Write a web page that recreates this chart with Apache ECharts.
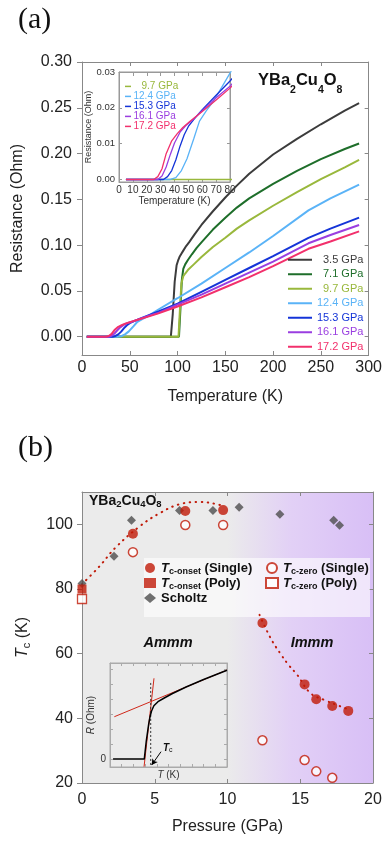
<!DOCTYPE html>
<html>
<head>
<meta charset="utf-8">
<script src="https://cdn.jsdelivr.net/npm/echarts@6/dist/echarts.min.js"></script>
<style>
html, body { margin: 0; padding: 0; background: #fff; }
#chart { width: 385px; height: 844px; }
</style>
</head>
<body>
<div id="chart"></div>
<script>
// ---- panel (a): resistance vs temperature, [T (K), R (Ohm)]
var r35  = [[5,0],[93,0],[95,0.025],[97,0.06],[99,0.078],[100.5,0.083],[102,0.087],[104,0.0905],[106,0.094],[109,0.099],[112,0.103],[118,0.112],[125,0.122],[137,0.137],[150,0.152],[162,0.165],[175,0.178],[200,0.199],[225,0.216],[250,0.232],[275,0.247],[290,0.255]];
var r71  = [[5,0],[101.5,0],[103,0.03],[104.5,0.062],[106,0.074],[108,0.079],[111,0.084],[115,0.09],[120,0.097],[125,0.103],[137,0.117],[150,0.13],[162,0.141],[175,0.151],[200,0.167],[225,0.181],[250,0.194],[275,0.205],[290,0.211]];
var r97  = [[5,0],[101,0],[102.5,0.03],[104,0.058],[106,0.066],[108,0.069],[111,0.073],[117,0.079],[125,0.087],[137,0.098],[150,0.108],[162,0.118],[175,0.127],[200,0.143],[225,0.158],[250,0.172],[275,0.185],[290,0.193]];
var r124 = [[5,0],[37,0],[41,0.0005],[45,0.0025],[49,0.0058],[54,0.0115],[58,0.0163],[63,0.0192],[68,0.0218],[74,0.0257],[80,0.0297],[100,0.042],[125,0.058],[150,0.075],[175,0.092],[200,0.11],[237,0.138],[260,0.151],[290,0.166]];
var r153 = [[5,0],[32,0],[35,0.0008],[38,0.0025],[41,0.0055],[44,0.0093],[47,0.0125],[50,0.0148],[54,0.0168],[60,0.0195],[70,0.0235],[80,0.0275],[100,0.036],[125,0.049],[150,0.062],[175,0.075],[200,0.088],[237,0.108],[260,0.118],[290,0.13]];
var r161 = [[5,0],[28,0],[31,0.001],[34,0.0035],[37,0.007],[40,0.0102],[44,0.0132],[48,0.015],[53,0.0166],[60,0.0192],[70,0.0228],[80,0.026],[100,0.035],[125,0.046],[150,0.058],[175,0.07],[200,0.082],[237,0.102],[260,0.111],[290,0.122]];
var r172 = [[5,0],[25,0],[28,0.0008],[31,0.003],[34,0.0072],[38,0.0108],[42,0.0128],[46,0.0145],[51,0.0162],[60,0.019],[70,0.0222],[80,0.0255],[100,0.033],[125,0.043],[150,0.054],[175,0.065],[200,0.077],[237,0.096],[260,0.104],[290,0.115]];

var pressureNames = ['3.5 GPa', '7.1 GPa', '9.7 GPa', '12.4 GPa', '15.3 GPa', '16.1 GPa', '17.2 GPa'];
var curves = [r35, r71, r97, r124, r153, r161, r172];
var curveColors = ['#3c3c3c', '#1e6e2a', '#99b83c', '#5ab3f7', '#1434d8', '#9a3ee0', '#f2306c'];
var yTicksA = [0, 0.05, 0.1, 0.15, 0.2, 0.25, 0.3];
var yTicksInsetA = [0, 0.01, 0.02, 0.03];

// ---- panel (b): Tc vs pressure, [P (GPa), Tc (K)]
var onsetSingle = [[3.5,97.1],[7.1,104.1],[9.7,104.4],[12.4,69.5],[15.3,50.5],[16.1,45.9],[17.2,43.8],[18.3,42.3]];
var zeroSingle  = [[3.5,91.4],[7.1,99.8],[9.7,99.8],[12.4,33.2],[15.3,27.1],[16.1,23.6],[17.2,21.6]];
var onsetPoly   = [[0,80.0]];
var zeroPoly    = [[0,76.9]];
var scholtz     = [[0,81.7],[2.2,90.1],[3.4,101.3],[6.7,104.3],[9.0,104.3],[10.8,105.3],[13.6,103.1],[17.3,101.3],[17.7,99.7]];
var fitAmmm     = [[0,81.5],[1.2,87],[2.3,92.8],[4,99.5],[5.4,103.6],[6.7,106.2],[8.1,106.9],[9.3,106.2],[9.8,105.4]];
var fitImmm     = [[12.2,72],[13.0,64.5],[13.7,59.6],[14.2,56.5],[14.8,53.4],[15.7,47.8],[16.7,45.6],[17.7,43.8],[18.3,42.8]];
var yTicksB = [20, 40, 60, 80, 100];

// ---- panel (b) inset: schematic R(T), arbitrary units
var insetCurve   = [[0.26,0],[2.93,0],[3.1,1.2],[3.3,2.3],[3.42,2.82],[3.55,3.2],[3.75,3.55],[4.1,3.82],[4.6,4.05],[5.3,4.35],[6.5,4.8],[8,5.3],[10,5.92]];
var tangentNormal = [[0.37,2.82],[10,5.93]];
var tangentSteep  = [[2.91,-0.51],[3.76,5.38]];
var tcMarker      = [[3.48,5.07],[3.48,-0.53]];
var tcArrow       = [[4.36,0.49],[3.56,-0.4]];
var insetTicksB   = [0, 1, 2, 3, 4, 5, 6];

var RED = '#c01a08';
var AX = '#888';
var FONT = 'Liberation Sans';

function plainAxis(o) {
    var a = {
        type: 'value',
        axisLine: {show: true, onZero: false, lineStyle: {color: o.lineColor || AX}},
        splitLine: {show: false},
        axisTick: {show: true, inside: o.inside !== false, length: o.tickLen || 4, lineStyle: {color: o.lineColor || AX}},
        axisLabel: {show: false}
    };
    for (var k in o) {
        if (k !== 'lineColor' && k !== 'inside' && k !== 'tickLen') a[k] = o[k];
    }
    if (o.tickValues) { a.axisTick.customValues = o.tickValues; delete a.tickValues; }
    return a;
}

var subRich = {
    i: {fontFamily: FONT, fontSize: 16, fontStyle: 'italic', lineHeight: 18},
    s: {fontFamily: FONT, fontSize: 11, lineHeight: 9, verticalAlign: 'bottom'},
    n: {fontFamily: FONT, fontSize: 16, lineHeight: 18}
};

var legendRich = {
    t: {fontFamily: FONT, fontSize: 13, fontWeight: 'bold', fontStyle: 'italic', lineHeight: 17, color: '#111'},
    s: {fontFamily: FONT, fontSize: 9, fontWeight: 'bold', lineHeight: 9, verticalAlign: 'bottom', color: '#111'},
    b: {fontFamily: FONT, fontSize: 13, fontWeight: 'bold', lineHeight: 17, color: '#111'}
};
function legendLabel(name) {
    if (name === 'Scholtz') return '{b|Scholtz}';
    var m = name.match(/^Tc-(\w+) (.*)$/);
    return '{t|T}{s|c-' + m[1] + '}{b| ' + m[2] + '}';
}

var series = [];
curves.forEach(function (d, i) {
    series.push({
        name: pressureNames[i], type: 'line', xAxisIndex: 0, yAxisIndex: 0, data: d,
        symbol: 'none', smooth: false,
        lineStyle: {color: curveColors[i], width: 2}, itemStyle: {color: curveColors[i]}
    });
});
curves.forEach(function (d, i) {
    if (i < 2) return;
    series.push({
        name: pressureNames[i], type: 'line', xAxisIndex: 2, yAxisIndex: 2, data: d,
        symbol: 'none', smooth: false,
        lineStyle: {color: curveColors[i], width: 1.3}, itemStyle: {color: curveColors[i]}
    });
});

series.push(
    {type: 'line', xAxisIndex: 4, yAxisIndex: 4, data: fitAmmm, symbol: 'none', smooth: 0.4,
     lineStyle: {color: RED, width: 2, type: [0.5, 5.5], cap: 'round'}, z: 1},
    {type: 'line', xAxisIndex: 4, yAxisIndex: 4, data: fitImmm, symbol: 'none', smooth: 0.4,
     lineStyle: {color: RED, width: 2, type: [0.5, 5.5], cap: 'round'}, z: 1},
    {name: 'Scholtz', type: 'scatter', xAxisIndex: 4, yAxisIndex: 4, data: scholtz,
     symbol: 'diamond', symbolSize: 9, itemStyle: {color: '#4d4d4d'}},
    {name: 'Tc-zero (Poly)', type: 'scatter', xAxisIndex: 4, yAxisIndex: 4, data: zeroPoly,
     symbol: 'rect', symbolSize: 9, itemStyle: {color: '#fff', borderColor: RED, borderWidth: 1.3}},
    {name: 'Tc-onset (Poly)', type: 'scatter', xAxisIndex: 4, yAxisIndex: 4, data: onsetPoly,
     symbol: 'rect', symbolSize: 9, itemStyle: {color: RED}},
    {name: 'Tc-zero (Single)', type: 'scatter', xAxisIndex: 4, yAxisIndex: 4, data: zeroSingle,
     symbol: 'circle', symbolSize: 9, itemStyle: {color: '#fff', borderColor: RED, borderWidth: 1.5}},
    {name: 'Tc-onset (Single)', type: 'scatter', xAxisIndex: 4, yAxisIndex: 4, data: onsetSingle,
     symbol: 'circle', symbolSize: 10, itemStyle: {color: RED}},
    // inset (b)
    {type: 'line', xAxisIndex: 6, yAxisIndex: 6, data: tangentNormal, symbol: 'none',
     lineStyle: {color: '#d0281a', width: 1}},
    {type: 'line', xAxisIndex: 6, yAxisIndex: 6, data: tangentSteep, symbol: 'none',
     lineStyle: {color: '#d0281a', width: 1}},
    {type: 'line', xAxisIndex: 6, yAxisIndex: 6, data: tcMarker, symbol: 'none',
     lineStyle: {color: '#333', width: 1, type: [2, 2]}},
    {type: 'line', xAxisIndex: 6, yAxisIndex: 6, data: insetCurve, symbol: 'none', smooth: false,
     lineStyle: {color: '#000', width: 1.5},
     markLine: {silent: true, symbol: ['none', 'arrow'], symbolSize: [5, 6], label: {show: false},
                lineStyle: {color: '#000', width: 1, type: 'solid'},
                data: [[{coord: tcArrow[0]}, {coord: tcArrow[1]}]]}}
);

var option = {
    animation: false,
    textStyle: {fontFamily: FONT},
    grid: [
        {left: 82, top: 62, width: 289, height: 293},
        {left: 119, top: 72, width: 111, height: 110, show: true, backgroundColor: '#fff', borderColor: '#999', borderWidth: 1},
        {left: 82, top: 492, width: 291, height: 291, show: true, borderWidth: 0,
         backgroundColor: new echarts.graphic.LinearGradient(0, 0, 1, 0, [
            {offset: 0, color: '#ebebeb'}, {offset: 0.5, color: '#ebebeb'},
            {offset: 0.72, color: '#e2d0f6'}, {offset: 1, color: '#d8bff6'}])},
        {left: 110, top: 663, width: 117, height: 104, show: true, backgroundColor: 'transparent', borderColor: '#aaa', borderWidth: 1}
    ],
    xAxis: [
        plainAxis({gridIndex: 0, min: 0, max: 300, interval: 50,
            axisLabel: {show: true, fontSize: 16, margin: 5, color: '#222'},
            name: 'Temperature (K)', nameLocation: 'middle', nameGap: 34,
            nameTextStyle: {fontSize: 16, color: '#222'}}),
        plainAxis({gridIndex: 0, position: 'top', min: 0, max: 300, interval: 50}),
        plainAxis({gridIndex: 1, min: 0, max: 80, interval: 10, lineColor: '#999', tickLen: 3,
            axisLabel: {show: true, fontSize: 10, margin: 3, color: '#333'},
            name: 'Temperature (K)', nameLocation: 'middle', nameGap: 14,
            nameTextStyle: {fontSize: 10, color: '#333'}}),
        plainAxis({gridIndex: 1, position: 'top', min: 0, max: 80, interval: 10, lineColor: '#999', tickLen: 0}),
        plainAxis({gridIndex: 2, min: 0, max: 20, interval: 5,
            axisLabel: {show: true, fontSize: 16, margin: 9, color: '#222'},
            name: 'Pressure (GPa)', nameLocation: 'middle', nameGap: 36,
            nameTextStyle: {fontSize: 16, color: '#222'}}),
        plainAxis({gridIndex: 2, position: 'top', min: 0, max: 20, interval: 5}),
        plainAxis({gridIndex: 3, min: 0, max: 10, interval: 1, lineColor: '#aaa', tickLen: 3,
            name: '{i|T} (K)', nameLocation: 'middle', nameGap: 3,
            nameTextStyle: {fontSize: 10, color: '#333', rich: {i: {fontSize: 10, fontStyle: 'italic', color: '#333'}}}}),
        plainAxis({gridIndex: 3, position: 'top', min: 0, max: 10, interval: 1, lineColor: '#aaa', tickLen: 3})
    ],
    yAxis: [
        plainAxis({gridIndex: 0, min: -0.02, max: 0.3, inside: false, tickLen: 5, tickValues: yTicksA,
            axisLabel: {show: true, customValues: yTicksA, fontSize: 16, margin: 10, color: '#222',
                        formatter: function (v) { return v.toFixed(2); }},
            name: 'Resistance (Ohm)', nameLocation: 'middle', nameGap: 56,
            nameTextStyle: {fontSize: 16, color: '#222'}}),
        plainAxis({gridIndex: 0, position: 'right', min: -0.02, max: 0.3, tickValues: yTicksA}),
        plainAxis({gridIndex: 1, min: -0.0007, max: 0.03, lineColor: '#999', tickLen: 3, tickValues: yTicksInsetA,
            axisLabel: {show: true, customValues: yTicksInsetA, fontSize: 9.5, margin: 4, color: '#333',
                        formatter: function (v) { return v.toFixed(2); }},
            name: 'Resistance (Ohm)', nameLocation: 'middle', nameGap: 24,
            nameTextStyle: {fontSize: 9, color: '#333'}}),
        plainAxis({gridIndex: 1, position: 'right', min: -0.0007, max: 0.03, lineColor: '#999', tickLen: 3, tickValues: yTicksInsetA}),
        plainAxis({gridIndex: 2, min: 20, max: 110, inside: false, tickLen: 5, tickValues: yTicksB,
            axisLabel: {show: true, customValues: yTicksB, fontSize: 16, margin: 9, color: '#222'},
            name: '{i|T}{s|c}{n| (K)}', nameLocation: 'middle', nameGap: 50,
            nameTextStyle: {fontSize: 16, color: '#222', rich: subRich}}),
        plainAxis({gridIndex: 2, position: 'right', min: 20, max: 110, tickValues: yTicksB}),
        plainAxis({gridIndex: 3, min: -0.53, max: 6.4, lineColor: '#aaa', tickLen: 3, tickValues: insetTicksB,
            axisLabel: {show: true, customValues: [0], fontSize: 10, margin: 4, color: '#333'},
            name: '{i|R} (Ohm)', nameLocation: 'middle', nameGap: 8,
            nameTextStyle: {fontSize: 10, color: '#333', rich: {i: {fontSize: 10, fontStyle: 'italic', color: '#333'}}}}),
        plainAxis({gridIndex: 3, position: 'right', min: -0.53, max: 6.4, lineColor: '#aaa', tickLen: 3, tickValues: insetTicksB})
    ],
    legend: [
        {
            orient: 'vertical', left: 288, top: 252.5, padding: 0, itemWidth: 24, itemHeight: 2, itemGap: 0,
            icon: 'rect', selectedMode: false,
            textStyle: {fontSize: 11, lineHeight: 14.5, fontFamily: FONT},
            data: pressureNames.map(function (n, i) {
                return {name: n, textStyle: {color: curveColors[i], padding: [0, 0, 0, i < 3 ? 6 : 0]}};
            })
        },
        {
            orient: 'vertical', left: 125, top: 81.4, padding: 0, itemWidth: 6, itemHeight: 1.5, itemGap: 0,
            icon: 'rect', selectedMode: false,
            textStyle: {fontSize: 10, lineHeight: 8.6, fontFamily: FONT},
            data: pressureNames.slice(2).map(function (n, i) {
                return {name: n, textStyle: {color: curveColors[i + 2], padding: [0, 0, 0, i === 0 ? 5.5 : -2.5]}};
            })
        },
        {
            orient: 'vertical', left: 144, top: 561.5, padding: 0, itemWidth: 12, itemHeight: 10, itemGap: 0,
            selectedMode: false, formatter: legendLabel, textStyle: {rich: legendRich},
            data: ['Tc-onset (Single)', 'Tc-onset (Poly)', 'Scholtz']
        },
        {
            orient: 'vertical', left: 265, top: 561.5, padding: 0, itemWidth: 12, itemHeight: 10, itemGap: 0,
            selectedMode: false, formatter: legendLabel, textStyle: {rich: legendRich},
            data: ['Tc-zero (Single)', 'Tc-zero (Poly)']
        }
    ],
    graphic: [
        {type: 'rect', z: 1, shape: {x: 144, y: 558, width: 226, height: 59},
         style: {fill: 'rgba(255,255,255,0.6)'}},
        {type: 'text', x: 18, y: 20, style: {text: '(a)', font: '30px "Liberation Serif"', fill: '#111',
         textAlign: 'left', textVerticalAlign: 'middle', align: 'left', verticalAlign: 'middle'}},
        {type: 'text', x: 18, y: 448, style: {text: '(b)', font: '30px "Liberation Serif"', fill: '#111',
         textAlign: 'left', textVerticalAlign: 'middle', align: 'left', verticalAlign: 'middle'}},
        {type: 'text', x: 258, y: 72, z: 5, style: {
            text: '{m|YBa}{s|2}{m|Cu}{s|4}{m|O}{s|8}', textAlign: 'left', textVerticalAlign: 'top',
            align: 'left', verticalAlign: 'top',
            rich: {
                m: {fontFamily: FONT, fontSize: 16.5, fontWeight: 'bold', lineHeight: 18, verticalAlign: 'top', fill: '#111', color: '#111'},
                s: {fontFamily: FONT, fontSize: 10.5, fontWeight: 'bold', lineHeight: 10, padding: [13, 0, 0, 0], verticalAlign: 'top', fill: '#111', color: '#111'}
            }}},
        {type: 'text', x: 89, y: 494, z: 5, style: {
            text: '{m|YBa}{s|2}{m|Cu}{s|4}{m|O}{s|8}', textAlign: 'left', textVerticalAlign: 'top',
            align: 'left', verticalAlign: 'top',
            rich: {
                m: {fontFamily: FONT, fontSize: 14, fontWeight: 'bold', lineHeight: 16, verticalAlign: 'top', fill: '#111', color: '#111'},
                s: {fontFamily: FONT, fontSize: 9.5, fontWeight: 'bold', lineHeight: 10, padding: [5, 0, 0, 0], verticalAlign: 'top', fill: '#111', color: '#111'}
            }}},
        {type: 'text', x: 168, y: 643, z: 5, style: {text: 'Ammm', font: 'italic bold 14.5px "Liberation Sans"', fill: '#111',
         textAlign: 'center', textVerticalAlign: 'middle', align: 'center', verticalAlign: 'middle'}},
        {type: 'text', x: 312, y: 643, z: 5, style: {text: 'Immm', font: 'italic bold 14.5px "Liberation Sans"', fill: '#111',
         textAlign: 'center', textVerticalAlign: 'middle', align: 'center', verticalAlign: 'middle'}},
        {type: 'text', x: 163, y: 748, z: 5, style: {
            text: '{t|T}{s|c}', textAlign: 'left', textVerticalAlign: 'middle', align: 'left', verticalAlign: 'middle',
            rich: {
                t: {fontFamily: FONT, fontSize: 10, fontWeight: 'bold', fontStyle: 'italic', lineHeight: 12, fill: '#111', color: '#111'},
                s: {fontFamily: FONT, fontSize: 7, lineHeight: 6, verticalAlign: 'bottom', fill: '#111', color: '#111'}
            }}}
    ],
    series: series
};

var chart = echarts.init(document.getElementById('chart'));
chart.setOption(option);
</script>
</body>
</html>
